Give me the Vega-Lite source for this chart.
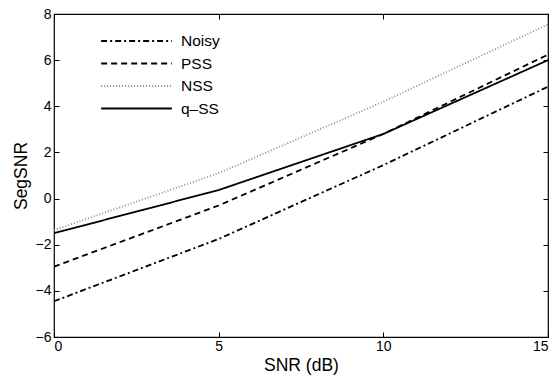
{
  "$schema": "https://vega.github.io/schema/vega-lite/v6.json",
  "autosize": {"type": "none"},
  "padding": {"left": 54, "top": 14, "right": 11, "bottom": 39},
  "width": 494,
  "height": 323,
  "background": "white",
  "config": {
    "font": "Liberation Sans",
    "view": {"stroke": "black", "strokeWidth": 1.2},
    "axis": {
      "domain": false,
      "grid": false,
      "tickColor": "black",
      "tickSize": -5,
      "tickWidth": 1,
      "labelColor": "black",
      "labelFontSize": 14,
      "titleColor": "black",
      "titleFontSize": 17.5,
      "titleFontWeight": "normal"
    }
  },
  "data": {
    "values": [
      {"snr": 0, "v": -4.45, "m": "Noisy"},
      {"snr": 5, "v": -1.75, "m": "Noisy"},
      {"snr": 10, "v": 1.45, "m": "Noisy"},
      {"snr": 15, "v": 4.85, "m": "Noisy"},
      {"snr": 0, "v": -2.95, "m": "PSS"},
      {"snr": 5, "v": -0.3, "m": "PSS"},
      {"snr": 10, "v": 2.8, "m": "PSS"},
      {"snr": 15, "v": 6.24, "m": "PSS"},
      {"snr": 0, "v": -1.37, "m": "NSS"},
      {"snr": 5, "v": 1.1, "m": "NSS"},
      {"snr": 10, "v": 4.2, "m": "NSS"},
      {"snr": 15, "v": 7.55, "m": "NSS"},
      {"snr": 0, "v": -1.5, "m": "q–SS"},
      {"snr": 5, "v": 0.37, "m": "q–SS"},
      {"snr": 10, "v": 2.8, "m": "q–SS"},
      {"snr": 15, "v": 6.0, "m": "q–SS"}
    ]
  },
  "layer": [
    {
      "mark": {"type": "line", "strokeWidth": 1.8},
      "encoding": {
        "x": {
          "field": "snr", "type": "quantitative",
          "scale": {"domain": [0, 15], "nice": false},
          "axis": {"values": [0, 5, 10, 15], "title": "SNR (dB)", "labelPadding": 7, "titlePadding": 3}
        },
        "y": {
          "field": "v", "type": "quantitative",
          "scale": {"domain": [-6, 8], "nice": false},
          "axis": {"values": [-6, -4, -2, 0, 2, 4, 6, 8], "title": "SegSNR", "labelPadding": 8, "titlePadding": 5}
        },
        "color": {
          "field": "m", "type": "nominal",
          "scale": {"domain": ["Noisy", "PSS", "NSS", "q–SS"], "range": ["black", "black", "#8c8c8c", "black"]},
          "legend": {
            "title": null,
            "orient": "none",
            "legendX": 46,
            "legendY": 16,
            "symbolType": "stroke",
            "symbolSize": 5000,
            "symbolStrokeWidth": 2,
            "labelFontSize": 15.5,
            "labelColor": "black",
            "labelOffset": 8,
            "clipHeight": 22,
            "rowPadding": 0.5
          }
        },
        "strokeDash": {
          "field": "m", "type": "nominal",
          "scale": {"domain": ["Noisy", "PSS", "NSS", "q–SS"], "range": [[6, 3, 2, 3], [6, 4], [1, 2], [1, 0]]},
          "legend": {
            "title": null,
            "orient": "none",
            "legendX": 46,
            "legendY": 16,
            "symbolType": "stroke",
            "symbolSize": 5000,
            "symbolStrokeWidth": 2,
            "labelFontSize": 15.5,
            "labelColor": "black",
            "labelOffset": 8,
            "clipHeight": 22,
            "rowPadding": 0.5
          }
        }
      }
    },
    {
      "mark": {"type": "point", "opacity": 0},
      "encoding": {
        "x": {"field": "snr", "type": "quantitative", "axis": {"orient": "top", "values": [0, 5, 10, 15], "labels": false, "title": null}},
        "y": {"field": "v", "type": "quantitative", "axis": {"orient": "right", "values": [-6, -4, -2, 0, 2, 4, 6, 8], "labels": false, "title": null}}
      }
    }
  ],
  "resolve": {"axis": {"x": "independent", "y": "independent"}}
}
